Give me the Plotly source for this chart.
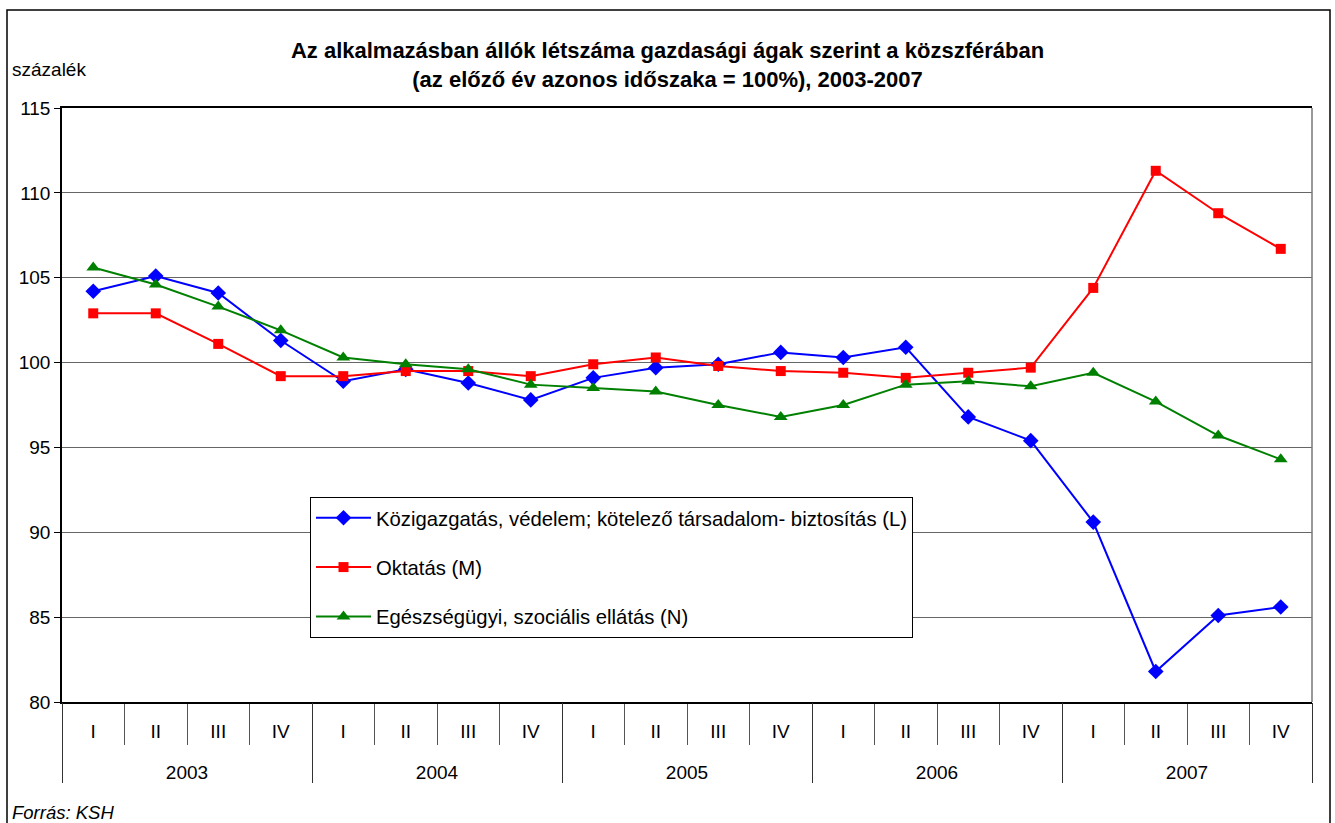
import plotly.graph_objects as go

year_labels = ["2003", "2004", "2005", "2006", "2007"]
quarter_labels = ["I", "II", "III", "IV"]
years = [y for y in year_labels for _ in quarter_labels]
quarters = quarter_labels * len(year_labels)
keys = [f"{y}-{q}" for y, q in zip(years, quarters)]

kozig = [104.2, 105.1, 104.1, 101.3, 98.9, 99.6, 98.8, 97.8, 99.1, 99.7,
         99.9, 100.6, 100.3, 100.9, 96.8, 95.4, 90.6, 81.8, 85.1, 85.6]
oktatas = [102.9, 102.9, 101.1, 99.2, 99.2, 99.5, 99.5, 99.2, 99.9, 100.3,
           99.8, 99.5, 99.4, 99.1, 99.4, 99.7, 104.4, 111.3, 108.8, 106.7]
egeszseg = [105.6, 104.6, 103.3, 101.9, 100.3, 99.9, 99.6, 98.7, 98.5, 98.3,
            97.5, 96.8, 97.5, 98.7, 98.9, 98.6, 99.4, 97.7, 95.7, 94.3]

names = ["Közigazgatás, védelem; kötelező társadalom- biztosítás (L)",
         "Oktatás (M)",
         "Egészségügyi, szociális ellátás (N)"]

FONT = "Liberation Sans, Arial, sans-serif"
W, H = 1335, 823
L, R, T, B = 62, 23, 108, 121
PW, PH = W - L - R, H - T - B


def px(xp):
    return (xp - L) / PW


def py(yp):
    return (H - B - yp) / PH


fig = go.Figure()
series = [
    (kozig, names[0], "#0000FF", "diamond", 12),
    (oktatas, names[1], "#FF0000", "square", 10),
    (egeszseg, names[2], "#008000", "triangle-up", 12),
]
for i, (vals, nm, col, sym, sz) in enumerate(series):
    fig.add_trace(go.Scatter(
        x=keys, y=vals, name=nm, mode="lines+markers",
        line=dict(color=col, width=2),
        marker=dict(color=col, symbol=sym, size=sz),
        legendgroup=f"g{i}",
    ))

# invisible trace that carries the year categories for the second x axis
fig.add_trace(go.Scatter(
    x=year_labels, y=[None] * len(year_labels), xaxis="x2", yaxis="y",
    mode="markers", showlegend=False, hoverinfo="skip",
))

fig.update_layout(
    width=W, height=H,
    margin=dict(l=L, r=R, t=T, b=B),
    paper_bgcolor="white", plot_bgcolor="white",
    font=dict(family=FONT, size=18, color="black"),
    title=dict(
        text="<b>Az alkalmazásban állók létszáma gazdasági ágak szerint a közszférában<br>(az előző év azonos időszaka = 100%), 2003-2007</b>",
        x=0.5, xanchor="center", y=1 - 58 / H, yanchor="middle",
        font=dict(family=FONT, size=22, color="black"),
    ),
    showlegend=True,
    legend=dict(
        x=px(310), y=py(497), xanchor="left", yanchor="top",
        bordercolor="black", borderwidth=1, bgcolor="white",
        font=dict(family=FONT, size=20.3),
        traceorder="grouped", tracegroupgap=20,
        itemwidth=55,
    ),
    xaxis=dict(
        type="category",
        categoryorder="array", categoryarray=keys,
        range=[-0.5, len(keys) - 0.5],
        tickmode="array", tickvals=keys, ticktext=quarters,
        showgrid=False,
        showline=True, linecolor="black", linewidth=1.5, mirror=True,
        ticks="outside", tickson="boundaries", ticklen=41, tickcolor="#555555",
        tickwidth=1,
        ticklabelstandoff=11,
        tickfont=dict(family=FONT, size=19),
    ),
    xaxis2=dict(
        type="category",
        overlaying="x", anchor="y", side="bottom",
        categoryorder="array", categoryarray=year_labels,
        range=[-0.5, len(year_labels) - 0.5],
        showgrid=False, showline=False, zeroline=False,
        ticks="outside", tickson="boundaries", ticklen=80, tickcolor="#333333",
        tickwidth=1,
        ticklabelstandoff=57,
        tickfont=dict(family=FONT, size=19),
    ),
    yaxis=dict(
        range=[80, 115], dtick=5, tick0=80,
        showgrid=True, gridcolor="#666666", gridwidth=1,
        showline=True, linecolor="black", linewidth=1.5,
        ticks="outside", ticklen=6, tickcolor="black",
        tickfont=dict(family=FONT, size=19),
        zeroline=False,
    ),
    annotations=[
        dict(text="százalék", xref="paper", yref="paper",
             x=px(10), y=py(70), xanchor="left", yanchor="middle",
             showarrow=False, font=dict(family=FONT, size=19)),
        dict(text="<i>Forrás: KSH</i>", xref="paper", yref="paper",
             x=px(10), y=py(812), xanchor="left", yanchor="middle",
             showarrow=False, font=dict(family=FONT, size=18.5)),
    ],
    shapes=[
        dict(type="rect", xref="paper", yref="paper",
             x0=px(7), x1=px(1330), y0=py(840), y1=py(10),
             line=dict(color="black", width=1.5), fillcolor="rgba(0,0,0,0)",
             layer="below"),
        dict(type="line", xref="paper", yref="paper",
             x0=1, x1=1, y0=0, y1=1,
             line=dict(color="#777777", width=1.5)),
    ],
)

fig.write_html(
    "out.html",
    config={"displayModeBar": False},
    post_script="document.body.style.margin='0';document.body.style.overflow='hidden';",
)
